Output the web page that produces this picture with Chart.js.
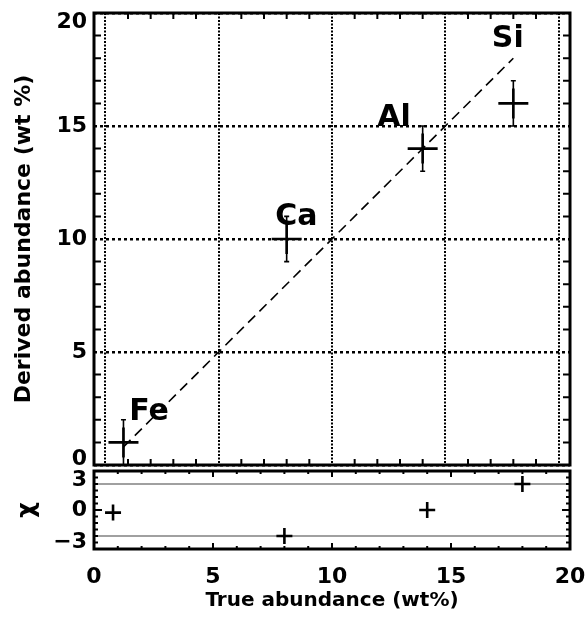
<!DOCTYPE html>
<html><head><meta charset="utf-8">
<script src="https://cdn.jsdelivr.net/npm/chart.js@4.4.1/dist/chart.umd.min.js"></script>
<style>
html,body{margin:0;padding:0;background:#fff;}
#wrap{position:relative;width:585px;height:619px;overflow:hidden;background:#fff;}
#top{position:absolute;left:0;top:0;}
#bot{position:absolute;left:0;top:455px;}
</style></head><body>
<div id="wrap"><canvas id="top" width="585" height="475"></canvas><canvas id="bot" width="585" height="164"></canvas></div>
<script>
// ---- data ----
const elements = ['Fe', 'Ca', 'Al', 'Si'];
const trueAbund = [0.8, 8.0, 14.0, 18.0];
const derivedAbund = [1.0, 10.0, 14.0, 16.0];
const derivedErr = [1.0, 1.0, 1.0, 1.0];
const chiValues = [-0.2, -2.0, 0.0, 2.0];
const labelX = [1.05, 7.5, 12.0, 17.05];
const labelY = [2.0, 10.6, 15.0, 18.5];
const oneToOne = [0.8, 18.0];
const chiLimits = [2, -2];
// ---- axes / ticks ----
const xRangeTop = [-0.5, 20.5];
const yRangeTop = [0, 20];
const xGridTop = [0, 5, 10, 15, 20];
const yTicksTop = [0, 5, 10, 15, 20];
const yTickLabelsTop = ['0', '5', '10', '15', '20'];
const xMinorTop = [1,2,3,4,6,7,8,9,11,12,13,14,16,17,18,19];
const yMinorTop = [1,2,3,4,6,7,8,9,11,12,13,14,16,17,18,19];
const xRangeBot = [0, 20];
const yRangeBot = [-3, 3];
const xTicksBottom = [0, 5, 10, 15, 20];
const yTicksBottom = [-3, 0, 3];
const yTickLabelsBottom = ['\u22123', '0', '3'];
const xMinorBot = [1,2,3,4,6,7,8,9,11,12,13,14,16,17,18,19];
const xMajorBot = [5, 10, 15];
const yMinorBot = [-2.5,-2,-1.5,-1,-0.5,0.5,1,1.5,2,2.5];
const yMajorBot = [0];

Chart.defaults.font.family = "'DejaVu Sans', sans-serif";
Chart.defaults.color = '#000';

const tickFont = "bold 22px 'DejaVu Sans', sans-serif";

function yLabels(chart, vals, labels, edgeTop, edgeBot) {
  const {ctx, scales: {y}} = chart;
  ctx.save();
  ctx.fillStyle = '#000';
  ctx.font = tickFont;
  ctx.textAlign = 'right';
  ctx.textBaseline = 'middle';
  vals.forEach((v, i) => {
    let py = y.getPixelForValue(v);
    if (v === y.max) py += edgeTop;
    if (v === y.min) py -= edgeBot;
    ctx.fillText(labels[i], 87, py);
  });
  ctx.restore();
}

const topDecor = {
  id: 'topDecor',
  afterDatasetsDraw(chart) {
    const {ctx, scales: {x, y}} = chart;
    ctx.save();
    ctx.strokeStyle = '#000';
    ctx.lineWidth = 1.6;
    ctx.beginPath();
    trueAbund.forEach((t, i) => {
      const px = x.getPixelForValue(t);
      const lo = y.getPixelForValue(derivedAbund[i] - derivedErr[i]);
      const hi = y.getPixelForValue(derivedAbund[i] + derivedErr[i]);
      ctx.moveTo(px, lo); ctx.lineTo(px, hi);
      ctx.moveTo(px - 2.5, hi); ctx.lineTo(px + 2.5, hi);
      if (derivedAbund[i] - derivedErr[i] > y.min) { ctx.moveTo(px - 2.5, lo); ctx.lineTo(px + 2.5, lo); }
    });
    ctx.stroke();
    ctx.fillStyle = '#000';
    ctx.font = "bold 30px 'DejaVu Sans', sans-serif";
    ctx.textAlign = 'left';
    ctx.textBaseline = 'alphabetic';
    elements.forEach((e, i) => {
      ctx.fillText(e, x.getPixelForValue(labelX[i]), y.getPixelForValue(labelY[i]));
    });
    ctx.restore();
  },
  afterDraw(chart) {
    const {ctx, chartArea: a, scales: {x, y}} = chart;
    ctx.save();
    ctx.strokeStyle = '#000';
    ctx.lineWidth = 2;
    ctx.beginPath();
    xMinorTop.forEach(v => {
      const px = x.getPixelForValue(v);
      ctx.moveTo(px, a.bottom); ctx.lineTo(px, a.bottom - 6);
      ctx.moveTo(px, a.top); ctx.lineTo(px, a.top + 6);
    });
    yMinorTop.forEach(v => {
      const py = y.getPixelForValue(v);
      ctx.moveTo(a.left, py); ctx.lineTo(a.left + 7, py);
      ctx.moveTo(a.right, py); ctx.lineTo(a.right - 7, py);
    });
    ctx.stroke();
    ctx.lineWidth = 3;
    ctx.strokeRect(a.left, a.top, a.right - a.left, a.bottom - a.top);
    ctx.restore();
    yLabels(chart, yTicksTop, yTickLabelsTop, 9, 6);
  }
};

const botDecor = {
  id: 'botDecor',
  afterDraw(chart) {
    const {ctx, chartArea: a, scales: {x, y}} = chart;
    ctx.save();
    ctx.strokeStyle = '#000';
    ctx.lineWidth = 2;
    ctx.beginPath();
    xMinorBot.forEach(v => {
      const px = x.getPixelForValue(v);
      ctx.moveTo(px, a.bottom); ctx.lineTo(px, a.bottom - 3);
      ctx.moveTo(px, a.top); ctx.lineTo(px, a.top + 3);
    });
    xMajorBot.forEach(v => {
      const px = x.getPixelForValue(v);
      ctx.moveTo(px, a.bottom); ctx.lineTo(px, a.bottom - 6);
      ctx.moveTo(px, a.top); ctx.lineTo(px, a.top + 6);
    });
    yMinorBot.forEach(v => {
      const py = y.getPixelForValue(v);
      ctx.moveTo(a.left, py); ctx.lineTo(a.left + 4, py);
      ctx.moveTo(a.right, py); ctx.lineTo(a.right - 4, py);
    });
    yMajorBot.forEach(v => {
      const py = y.getPixelForValue(v);
      ctx.moveTo(a.left, py); ctx.lineTo(a.left + 8, py);
      ctx.moveTo(a.right, py); ctx.lineTo(a.right - 8, py);
    });
    ctx.stroke();
    ctx.lineWidth = 3;
    ctx.strokeRect(a.left, a.top, a.right - a.left, a.bottom - a.top);
    ctx.restore();
    yLabels(chart, yTicksBottom, yTickLabelsBottom, 9, 7);
  }
};

new Chart(document.getElementById('top'), {
  type: 'scatter',
  data: {
    datasets: [
      {
        type: 'line',
        data: oneToOne.map(v => ({x: v, y: v})),
        borderColor: '#000', borderWidth: 1.6, borderDash: [10, 6],
        pointRadius: 0, fill: false, order: 2
      },
      {
        data: trueAbund.map((t, i) => ({x: t, y: derivedAbund[i]})),
        pointStyle: 'cross', pointRadius: 15, borderColor: '#000', borderWidth: 2.6,
        backgroundColor: '#000', order: 1
      }
    ]
  },
  options: {
    responsive: false, animation: false, devicePixelRatio: 1,
    layout: {autoPadding: false, padding: {top: 13, right: 15, left: 0, bottom: 0}},
    plugins: {legend: {display: false}, tooltip: {enabled: false}},
    scales: {
      x: {
        type: 'linear', min: xRangeTop[0], max: xRangeTop[1],
        afterBuildTicks: s => { s.ticks = xGridTop.map(v => ({value: v})); },
        ticks: {display: false},
        grid: {color: '#000', lineWidth: 2, drawTicks: false},
        border: {display: false, dash: [2, 1.5]},
        afterFit: s => { s.height = 10; s.paddingLeft = 0; s.paddingRight = 0; }
      },
      y: {
        type: 'linear', min: yRangeTop[0], max: yRangeTop[1],
        afterBuildTicks: s => { s.ticks = yTicksTop.map(v => ({value: v})); },
        ticks: {display: false},
        grid: {color: '#000', lineWidth: 2.5, drawTicks: false},
        border: {display: false, dash: [3, 3]},
        title: {display: true, text: 'Derived abundance (wt %)', color: '#000',
                font: {size: 22, weight: 'bold'}, padding: {top: 11, bottom: 0}},
        afterFit: s => { s.width = 94; s.paddingTop = 0; s.paddingBottom = 0; }
      }
    }
  },
  plugins: [topDecor]
});

new Chart(document.getElementById('bot'), {
  type: 'scatter',
  data: {
    datasets: [
      {
        data: trueAbund.map((t, i) => ({x: t, y: chiValues[i]})),
        pointStyle: 'cross', pointRadius: 8, borderColor: '#000', borderWidth: 2.6, order: 1
      },
      {
        type: 'line', data: xRangeBot.map(v => ({x: v, y: chiLimits[0]})),
        borderColor: '#808080', borderWidth: 1.6, pointRadius: 0, fill: false, order: 2
      },
      {
        type: 'line', data: xRangeBot.map(v => ({x: v, y: chiLimits[1]})),
        borderColor: '#808080', borderWidth: 1.6, pointRadius: 0, fill: false, order: 3
      }
    ]
  },
  options: {
    responsive: false, animation: false, devicePixelRatio: 1,
    layout: {autoPadding: false, padding: {top: 16, right: 15, left: 0, bottom: 0}},
    plugins: {legend: {display: false}, tooltip: {enabled: false}},
    scales: {
      x: {
        type: 'linear', min: xRangeBot[0], max: xRangeBot[1],
        afterBuildTicks: s => { s.ticks = xTicksBottom.map(v => ({value: v})); },
        ticks: {display: true, font: {size: 22, weight: 'bold'}, color: '#000', padding: 15, maxRotation: 0, autoSkip: false},
        grid: {display: false, drawTicks: false},
        border: {display: false},
        title: {display: true, text: 'True abundance (wt%)', color: '#000',
                font: {size: 20, weight: 'bold'}, padding: {top: 0, bottom: 6}},
        afterFit: s => { s.height = 70; s.paddingLeft = 0; s.paddingRight = 0; }
      },
      y: {
        type: 'linear', min: yRangeBot[0], max: yRangeBot[1],
        ticks: {display: false},
        grid: {display: false, drawTicks: false},
        border: {display: false},
        title: {display: true, text: '\u03c7', color: '#000',
                font: {size: 24, weight: 'bold'}, padding: {top: 13, bottom: 0}},
        afterFit: s => { s.width = 94; s.paddingTop = 0; s.paddingBottom = 0; }
      }
    }
  },
  plugins: [botDecor]
});
</script>
</body></html>
